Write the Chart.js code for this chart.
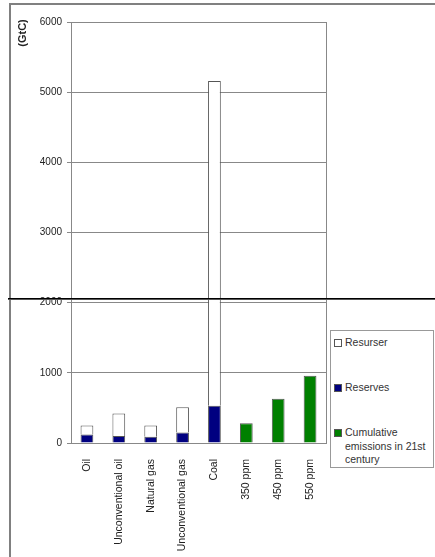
<!DOCTYPE html>
<html>
<head>
<meta charset="utf-8">
<script src="https://cdn.jsdelivr.net/npm/chart.js@4/dist/chart.umd.min.js"></script>
<style>
  body { margin: 0; background: #fff; width: 435px; height: 557px; overflow: hidden; position: relative; font-family: "Liberation Sans", Arial, sans-serif; }
  #c { position: absolute; left: 0; top: 0; }
  .frameTop { position: absolute; left: 10px; top: 3px; width: 425px; height: 2px; background: #808080; }
  .frameLeft { position: absolute; left: 9px; top: 3px; width: 2px; height: 554px; background: #808080; }
  .cutLine { position: absolute; left: 8px; top: 298px; width: 427px; height: 1px; background: #000; border-bottom: 1px solid #555; }
  .ytitle { position: absolute; left: 0px; top: 27px; width: 44px; text-align: center; font-size: 11px; font-weight: bold; color: #222; transform: rotate(-90deg); }
  #legend { position: absolute; left: 330px; top: 330px; width: 102px; height: 136px; border: 1px solid #999; background: #fff; font-size: 10.5px; color: #333; }
  .item { position: absolute; left: 3px; width: 98px; line-height: 13.5px; }
  .item .sw { position: absolute; left: 0; top: 3px; width: 6px; height: 6px; border: 1px solid #555; }
  .item .tx { margin-left: 11px; display: block; }
</style>
</head>
<body>
<canvas id="c" width="435" height="557"></canvas>
<div class="frameTop"></div>
<div class="frameLeft"></div>
<div class="ytitle">(GtC)</div>
<div id="legend"></div>
<div class="cutLine"></div>
<script>
// categories along the x axis
const categories = ['Oil', 'Unconventional oil', 'Natural gas', 'Unconventional gas', 'Coal', '350 ppm', '450 ppm', '550 ppm'];

// GtC (resources stacked on top of reserves)
const reserves = [120, 100, 90, 150, 530, null, null, null];
const resurser = [130, 320, 160, 360, 4630, null, null, null];
const cumulative = [null, null, null, null, null, 280, 630, 960];

const yTicks = [0, 1000, 2000, 3000, 4000, 5000, 6000];

const colors = { resurser: '#ffffff', reserves: '#000080', cumulative: '#008000' };

const datasets = [
    { label: 'Reserves', data: reserves, backgroundColor: colors.reserves },
    { label: 'Resurser', data: resurser, backgroundColor: colors.resurser },
    { label: 'Cumulative emissions in 21st century', data: cumulative, backgroundColor: colors.cumulative }
].map(d => Object.assign(d, { borderColor: '#555', borderWidth: 1, categoryPercentage: 1, barPercentage: 0.4 }));

// order shown in the legend box
const legendOrder = ['Resurser', 'Reserves', 'Cumulative emissions in 21st century'];
const legendTops = [5, 50, 95];

// right side of the plot frame
const frameRight = {
    id: 'frameRight',
    afterDraw(chart) {
        const a = chart.chartArea, ctx = chart.ctx;
        ctx.save();
        ctx.strokeStyle = '#888';
        ctx.lineWidth = 1;
        ctx.beginPath();
        ctx.moveTo(Math.round(a.right) + 0.5, a.top);
        ctx.lineTo(Math.round(a.right) + 0.5, a.bottom);
        ctx.stroke();
        ctx.restore();
    }
};

const chart = new Chart(document.getElementById('c'), {
    type: 'bar',
    data: { labels: categories, datasets: datasets },
    options: {
        responsive: false,
        animation: false,
        layout: { padding: { left: 0, top: 22, right: 109, bottom: 0 } },
        plugins: { legend: { display: false }, tooltip: { enabled: false } },
        scales: {
            x: {
                stacked: true,
                grid: { display: false },
                border: { color: '#888' },
                ticks: {
                    minRotation: 90, maxRotation: 90, padding: 8, autoSkip: false,
                    color: '#222', font: { family: 'Liberation Sans', size: 10.5 }
                },
                afterFit(scale) { scale.height = 114; }
            },
            y: {
                stacked: true,
                min: 0, max: 6000,
                afterBuildTicks(scale) { scale.ticks = yTicks.map(v => ({ value: v })); },
                grid: { color: '#888', tickLength: 4 },
                border: { color: '#888' },
                ticks: {
                    padding: 5, color: '#222', font: { family: 'Liberation Sans', size: 10 },
                    callback: v => String(v)
                },
                afterFit(scale) { scale.width = 71; }
            }
        }
    },
    plugins: [frameRight]
});

// html legend so the long label wraps like the original
const legend = document.getElementById('legend');
legendOrder.forEach((name, i) => {
    const ds = datasets.find(d => d.label === name);
    const el = document.createElement('div');
    el.className = 'item';
    el.style.top = legendTops[i] + 'px';
    el.innerHTML = '<span class="sw" style="background:' + ds.backgroundColor + '"></span><span class="tx">' + ds.label + '</span>';
    legend.appendChild(el);
});
</script>
</body>
</html>
